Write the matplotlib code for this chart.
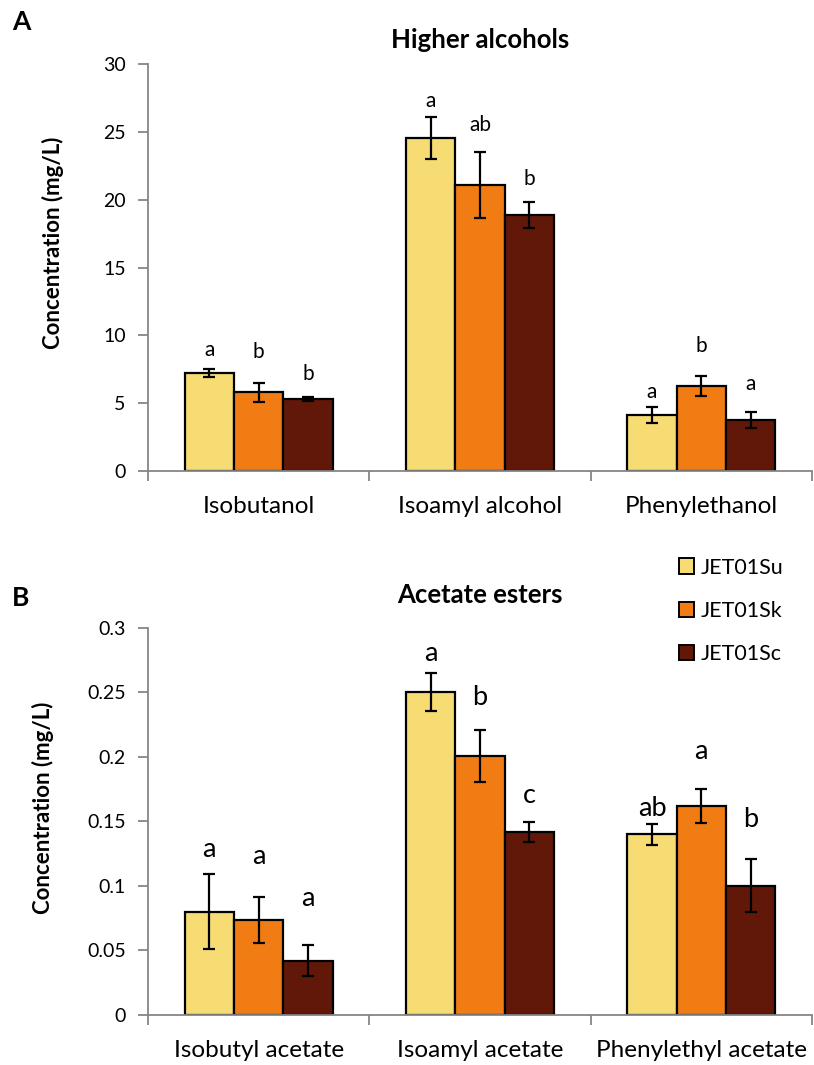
import matplotlib
matplotlib.use("Agg")
import matplotlib.pyplot as plt
import matplotlib.patches as mpatches
import numpy as np

plt.rcParams['font.family'] = ['Lato', 'DejaVu Sans']

strains = ["JET01Su", "JET01Sk", "JET01Sc"]
colors = ["#F7DC74", "#F27C14", "#611808"]

# higher alcohols (mg/L)
alc_names = ["Isobutanol", "Isoamyl alcohol", "Phenylethanol"]
alc_mean = [[7.22, 24.53, 4.13],
            [5.82, 21.11, 6.27],
            [5.34, 18.88, 3.76]]
alc_err = [[0.30, 1.55, 0.59],
           [0.70, 2.43, 0.76],
           [0.15, 0.93, 0.59]]
alc_letters = [["a", "a", "a"],
               ["b", "ab", "b"],
               ["b", "b", "a"]]

# acetate esters (mg/L)
est_names = ["Isobutyl acetate", "Isoamyl acetate", "Phenylethyl acetate"]
est_mean = [[0.080, 0.250, 0.140],
            [0.0735, 0.2005, 0.162],
            [0.042, 0.142, 0.1003]]
est_err = [[0.029, 0.0146, 0.0083],
           [0.018, 0.020, 0.013],
           [0.012, 0.0078, 0.0208]]
est_letters = [["a", "a", "ab"],
               ["a", "b", "a"],
               ["a", "c", "b"]]

# how far (points) each significance letter sits above its error bar
alc_letter_gap = [[14, 12, 11], [22, 19, 21], [16, 17, 20]]
est_letter_gap = [[18, 14, 11], [29, 24, 27], [34, 19, 28]]

fig = plt.figure(figsize=(8.14, 10.65), dpi=100)
axA = fig.add_axes([0.1818, 0.5577, 0.8157, 0.3822])
axB = fig.add_axes([0.1818, 0.0469, 0.8157, 0.3637])

axis_grey = "#868686"
bw = 0.223


def draw_panel(ax, names, means, errs, letters, gaps, letter_size,
               ymax, yticks, ticklabels, title, title_y, ylab_xy):
    x = np.arange(len(names))
    for i in range(3):
        pos = x + (i - 1) * bw
        ax.bar(pos, means[i], bw, color=colors[i], edgecolor="black",
               linewidth=1.6, zorder=2)
        ax.errorbar(pos, means[i], yerr=errs[i], fmt="none", ecolor="black",
                    elinewidth=1.6, capsize=4, capthick=1.6, zorder=3)
        for p, m, e, t, g in zip(pos, means[i], errs[i], letters[i], gaps[i]):
            ax.annotate(t, (p, m + e), xytext=(0, g), textcoords="offset points",
                        ha="center", va="center", fontsize=letter_size)
    ax.set_xlim(-0.5, 2.5)
    ax.set_ylim(0, ymax)
    ax.set_yticks(yticks)
    ax.set_yticklabels(ticklabels, fontsize=14)
    ax.set_xticks([-0.5, 0.5, 1.5, 2.5])
    ax.set_xticklabels([])
    ax.set_xticks(x, minor=True)
    ax.set_xticklabels(names, minor=True, fontsize=17.5)
    ax.tick_params(axis="x", which="major", length=7, width=1.3, color=axis_grey)
    ax.tick_params(axis="x", which="minor", length=0, pad=18)
    ax.tick_params(axis="y", length=7, width=1.3, color=axis_grey, pad=9)
    for s in ["top", "right"]:
        ax.spines[s].set_visible(False)
    for s in ["left", "bottom"]:
        ax.spines[s].set_color(axis_grey)
        ax.spines[s].set_linewidth(1.3)
    ax.set_ylabel("Concentration (mg/L)", fontsize=16, fontweight="bold")
    ax.yaxis.set_label_coords(*ylab_xy)
    ax.text(0.5, title_y, title, transform=ax.transAxes, ha="center",
            va="center", fontsize=18.5, fontweight="bold")


draw_panel(axA, alc_names, alc_mean, alc_err, alc_letters, alc_letter_gap, 15,
           30, [0, 5, 10, 15, 20, 25, 30],
           ["0", "5", "10", "15", "20", "25", "30"],
           "Higher alcohols", 1.059, (-0.127, 0.56))
draw_panel(axB, est_names, est_mean, est_err, est_letters, est_letter_gap, 19.5,
           0.3, [0, 0.05, 0.1, 0.15, 0.2, 0.25, 0.3],
           ["0", "0.05", "0.1", "0.15", "0.2", "0.25", "0.3"],
           "Acetate esters", 1.085, (-0.141, 0.535))

fig.text(0.0147, 0.9793, "A", fontsize=19, fontweight="bold", va="center")
fig.text(0.0147, 0.4385, "B", fontsize=19, fontweight="bold", va="center")

handles = [mpatches.Patch(facecolor=c, edgecolor="black", linewidth=1.4) for c in colors]
fig.legend(handles, strains, loc="upper left", bbox_to_anchor=(0.834, 0.4765),
           frameon=False, fontsize=15.5, handlelength=0.7, handleheight=0.7,
           handletextpad=0.3, labelspacing=1.08, borderpad=0, borderaxespad=0)

fig.savefig("out.png", dpi=100)
